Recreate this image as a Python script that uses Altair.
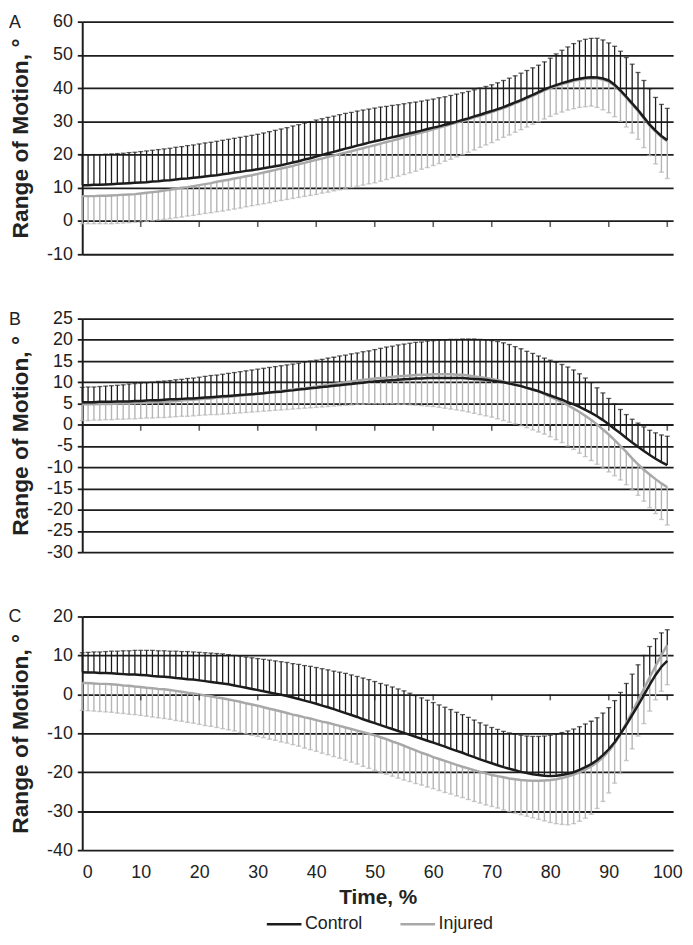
import altair as alt
import pandas as pd

# ---------------- data ----------------
t = list(range(101))
x_tick_vals = [10, 20, 30, 40, 50, 60, 70, 80, 90, 100]
x_label_vals = [0, 10, 20, 30, 40, 50, 60, 70, 80, 90, 100]
groups = ["Control", "Injured"]

# Panel A
A_ctrl_mean = [10.8, 10.8, 10.9, 10.9, 11.0, 11.1, 11.2, 11.3, 11.4, 11.5, 11.6, 11.7, 11.9, 12.0, 12.2, 12.3, 12.5, 12.7, 12.8, 13.0,
               13.2, 13.4, 13.6, 13.8, 14.1, 14.3, 14.6, 14.8, 15.1, 15.3, 15.6, 15.9, 16.2, 16.5, 16.8, 17.2, 17.6, 18.0, 18.5, 18.9,
               19.4, 19.9, 20.4, 20.8, 21.3, 21.8, 22.2, 22.7, 23.1, 23.6, 24.0, 24.4, 24.8, 25.2, 25.6, 26.0, 26.4, 26.8, 27.2, 27.7,
               28.1, 28.5, 29.0, 29.4, 29.9, 30.4, 30.9, 31.5, 32.0, 32.6, 33.1, 33.7, 34.3, 35.0, 35.7, 36.4, 37.2, 38.0, 38.8, 39.6,
               40.3, 40.9, 41.5, 42.0, 42.5, 42.8, 43.1, 43.3, 43.2, 42.9, 42.3, 41.0, 39.3, 37.4, 35.4, 33.4, 31.2, 29.0, 27.2, 25.6,
               24.3]
A_ctrl_top = [19.9, 19.9, 20.0, 20.0, 20.1, 20.2, 20.3, 20.4, 20.6, 20.7, 20.9, 21.1, 21.3, 21.5, 21.7, 21.9, 22.2, 22.4, 22.7, 22.9,
              23.2, 23.5, 23.7, 24.0, 24.3, 24.6, 24.9, 25.2, 25.5, 25.8, 26.1, 26.5, 26.9, 27.3, 27.7, 28.1, 28.6, 29.0, 29.5, 29.9,
              30.4, 30.8, 31.2, 31.6, 32.0, 32.4, 32.7, 33.1, 33.4, 33.7, 34.0, 34.3, 34.5, 34.8, 35.0, 35.3, 35.6, 35.8, 36.1, 36.4,
              36.7, 37.1, 37.4, 37.8, 38.2, 38.6, 39.0, 39.5, 40.0, 40.5, 41.0, 41.6, 42.3, 43.0, 43.7, 44.5, 45.3, 46.1, 46.9, 47.9,
              49.0, 50.3, 51.4, 52.4, 53.4, 54.2, 54.7, 55.0, 55.0, 54.5, 53.6, 52.6, 51.1, 49.2, 47.2, 44.7, 42.3, 39.8, 37.2, 35.1,
              33.9]
A_inj_mean = [7.5, 7.5, 7.5, 7.6, 7.6, 7.7, 7.8, 7.9, 8.0, 8.1, 8.3, 8.5, 8.7, 8.9, 9.2, 9.4, 9.7, 10.0, 10.2, 10.5,
              10.8, 11.1, 11.4, 11.8, 12.1, 12.4, 12.8, 13.1, 13.5, 13.8, 14.2, 14.6, 15.0, 15.4, 15.8, 16.2, 16.6, 17.1, 17.5, 18.0,
              18.4, 18.8, 19.3, 19.7, 20.2, 20.6, 21.0, 21.5, 21.9, 22.4, 22.8, 23.3, 23.8, 24.2, 24.7, 25.2, 25.7, 26.2, 26.6, 27.1,
              27.6, 28.1, 28.6, 29.1, 29.6, 30.1, 30.6, 31.2, 31.7, 32.3, 32.8, 33.4, 34.0, 34.7, 35.4, 36.1, 36.9, 37.7, 38.5, 39.3,
              40.0, 40.6, 41.2, 41.7, 42.2, 42.5, 42.8, 43.0, 42.9, 42.6, 42.0, 40.7, 39.0, 37.1, 35.1, 33.1, 30.9, 28.7, 26.9, 25.3,
              24.0]
A_inj_bottom = [-0.8, -0.8, -0.8, -0.8, -0.8, -0.8, -0.7, -0.6, -0.5, -0.4, -0.3, -0.1, 0.1, 0.3, 0.5, 0.7, 1.0, 1.2, 1.5, 1.7,
                2.0, 2.3, 2.5, 2.8, 3.0, 3.3, 3.6, 3.9, 4.3, 4.6, 4.9, 5.2, 5.5, 5.9, 6.2, 6.5, 6.8, 7.1, 7.4, 7.7,
                8.0, 8.4, 8.7, 9.1, 9.4, 9.8, 10.1, 10.5, 10.8, 11.2, 11.5, 12.0, 12.5, 13.0, 13.5, 14.0, 14.5, 15.0, 15.6, 16.1,
                16.7, 17.3, 18.0, 18.6, 19.3, 20.0, 20.7, 21.4, 22.2, 22.9, 23.6, 24.4, 25.2, 25.9, 26.7, 27.5, 28.3, 29.1, 29.9, 30.7,
                31.5, 32.2, 32.8, 33.4, 33.8, 34.2, 34.4, 34.6, 34.2, 33.5, 32.6, 31.4, 30.0, 28.3, 26.5, 24.6, 22.1, 19.7, 17.2, 14.7,
                12.8]

# Panel B
B_ctrl_mean = [5.3, 5.3, 5.3, 5.4, 5.4, 5.4, 5.5, 5.5, 5.5, 5.6, 5.6, 5.7, 5.8, 5.8, 5.9, 6.0, 6.0, 6.1, 6.2, 6.2,
               6.3, 6.4, 6.5, 6.6, 6.7, 6.8, 6.9, 7.0, 7.1, 7.2, 7.3, 7.4, 7.6, 7.7, 7.8, 8.0, 8.1, 8.3, 8.4, 8.6,
               8.7, 8.9, 9.0, 9.2, 9.3, 9.5, 9.6, 9.8, 9.9, 10.1, 10.2, 10.3, 10.4, 10.5, 10.6, 10.7, 10.8, 10.9, 10.9, 11.0,
               11.0, 11.0, 11.0, 11.0, 11.0, 11.0, 10.9, 10.8, 10.7, 10.6, 10.4, 10.2, 10.0, 9.7, 9.4, 9.1, 8.7, 8.3, 7.9, 7.4,
               6.9, 6.4, 5.9, 5.3, 4.8, 4.2, 3.5, 2.8, 2.0, 1.1, 0.1, -1.0, -2.0, -3.1, -4.2, -5.2, -6.2, -7.1, -8.0, -8.8,
               -9.5]
B_ctrl_top = [8.8, 8.9, 8.9, 9.0, 9.1, 9.2, 9.3, 9.4, 9.6, 9.7, 9.8, 9.9, 10.0, 10.2, 10.3, 10.4, 10.6, 10.7, 10.9, 11.0,
              11.2, 11.4, 11.6, 11.7, 11.9, 12.1, 12.3, 12.5, 12.7, 12.9, 13.1, 13.3, 13.5, 13.7, 13.9, 14.1, 14.3, 14.5, 14.8, 15.0,
              15.2, 15.4, 15.7, 15.9, 16.2, 16.4, 16.7, 16.9, 17.2, 17.4, 17.7, 18.0, 18.3, 18.5, 18.8, 19.0, 19.2, 19.4, 19.5, 19.7,
              19.8, 19.9, 20.0, 20.1, 20.1, 20.2, 20.2, 20.2, 20.1, 20.0, 19.8, 19.6, 19.3, 18.9, 18.4, 17.9, 17.3, 16.8, 16.2, 15.7,
              15.2, 14.7, 14.2, 13.6, 12.9, 12.0, 11.0, 9.9, 8.7, 7.5, 6.2, 4.9, 3.6, 2.4, 1.3, 0.4, -0.5, -1.3, -1.9, -2.4,
              -2.7]
B_inj_mean = [4.8, 4.8, 4.8, 4.9, 4.9, 4.9, 5.0, 5.0, 5.0, 5.1, 5.1, 5.2, 5.3, 5.4, 5.4, 5.5, 5.6, 5.7, 5.8, 5.9,
              6.0, 6.1, 6.2, 6.4, 6.5, 6.6, 6.7, 6.9, 7.0, 7.2, 7.3, 7.5, 7.6, 7.8, 8.0, 8.1, 8.3, 8.5, 8.6, 8.8,
              9.0, 9.2, 9.4, 9.6, 9.8, 10.0, 10.2, 10.4, 10.6, 10.7, 10.9, 11.0, 11.1, 11.3, 11.4, 11.5, 11.6, 11.7, 11.8, 11.8,
              11.9, 11.9, 11.9, 11.9, 11.8, 11.8, 11.6, 11.4, 11.2, 11.0, 10.8, 10.5, 10.2, 9.8, 9.5, 9.1, 8.7, 8.3, 7.9, 7.2,
              6.6, 6.0, 5.3, 4.6, 3.8, 3.0, 2.1, 1.1, 0.1, -1.1, -2.3, -3.6, -5.0, -6.4, -7.9, -9.3, -10.6, -11.7, -12.8, -13.8,
              -14.7]
B_inj_bottom = [1.0, 1.0, 1.1, 1.1, 1.2, 1.2, 1.3, 1.3, 1.4, 1.4, 1.5, 1.6, 1.6, 1.7, 1.7, 1.8, 1.9, 2.0, 2.0, 2.1,
                2.2, 2.3, 2.4, 2.4, 2.5, 2.6, 2.7, 2.8, 2.9, 3.0, 3.1, 3.2, 3.3, 3.4, 3.5, 3.6, 3.7, 3.8, 3.9, 4.0,
                4.1, 4.2, 4.3, 4.4, 4.5, 4.6, 4.7, 4.8, 4.8, 4.9, 4.9, 4.9, 4.9, 4.9, 4.8, 4.8, 4.7, 4.6, 4.5, 4.4,
                4.3, 4.1, 3.9, 3.7, 3.5, 3.3, 3.0, 2.7, 2.4, 2.1, 1.8, 1.4, 1.0, 0.6, 0.2, -0.2, -0.7, -1.2, -1.7, -2.2,
                -2.8, -3.5, -4.2, -5.0, -5.8, -6.7, -7.5, -8.4, -9.3, -10.2, -11.1, -12.0, -13.0, -14.1, -15.3, -16.6, -18.0, -19.5, -20.9, -22.3,
                -23.6]

# Panel C
C_ctrl_mean = [5.7, 5.6, 5.6, 5.5, 5.5, 5.4, 5.3, 5.2, 5.1, 5.1, 5.0, 4.9, 4.7, 4.6, 4.5, 4.4, 4.2, 4.1, 3.9, 3.8,
               3.6, 3.4, 3.2, 3.0, 2.8, 2.6, 2.3, 2.0, 1.7, 1.4, 1.1, 0.8, 0.5, 0.2, -0.1, -0.4, -0.8, -1.2, -1.6, -2.0,
               -2.4, -2.9, -3.3, -3.8, -4.3, -4.8, -5.3, -5.8, -6.4, -6.9, -7.4, -7.9, -8.4, -8.9, -9.4, -9.9, -10.4, -10.9, -11.4, -11.9,
               -12.4, -12.9, -13.4, -14.0, -14.5, -15.0, -15.6, -16.1, -16.7, -17.2, -17.7, -18.2, -18.7, -19.1, -19.5, -19.9, -20.2, -20.5, -20.7, -20.9,
               -21.0, -20.9, -20.7, -20.4, -20.0, -19.4, -18.7, -17.9, -16.9, -15.6, -14.1, -12.3, -10.1, -7.8, -5.3, -2.8, -0.2, 2.5, 5.0, 7.1,
               8.6]
C_ctrl_top = [10.7, 10.8, 10.9, 10.9, 11.0, 11.1, 11.1, 11.2, 11.2, 11.3, 11.3, 11.3, 11.3, 11.2, 11.2, 11.1, 11.1, 11.0, 11.0, 10.9,
              10.8, 10.7, 10.6, 10.5, 10.4, 10.2, 10.0, 9.8, 9.6, 9.4, 9.2, 9.0, 8.8, 8.6, 8.4, 8.2, 7.9, 7.7, 7.4, 7.2,
              6.9, 6.6, 6.3, 6.0, 5.7, 5.4, 5.0, 4.6, 4.2, 3.8, 3.3, 2.8, 2.4, 1.9, 1.4, 0.9, 0.3, -0.3, -0.9, -1.5,
              -2.1, -2.7, -3.3, -3.9, -4.6, -5.2, -5.9, -6.6, -7.3, -7.9, -8.5, -9.0, -9.5, -9.9, -10.2, -10.5, -10.7, -10.8, -10.8, -10.7,
              -10.5, -10.2, -9.8, -9.4, -8.9, -8.3, -7.6, -6.9, -6.0, -4.8, -3.4, -1.6, 0.5, 2.8, 5.2, 7.6, 10.0, 12.3, 14.3, 15.8,
              16.6]
C_inj_mean = [2.9, 2.9, 2.8, 2.7, 2.7, 2.6, 2.5, 2.3, 2.2, 2.0, 1.9, 1.7, 1.6, 1.4, 1.3, 1.1, 0.9, 0.7, 0.4, 0.2,
              0.0, -0.3, -0.5, -0.8, -1.0, -1.3, -1.6, -1.9, -2.3, -2.6, -2.9, -3.3, -3.7, -4.0, -4.4, -4.8, -5.2, -5.5, -5.9, -6.2,
              -6.6, -7.0, -7.3, -7.7, -8.1, -8.5, -8.9, -9.3, -9.7, -10.1, -10.5, -11.0, -11.5, -12.1, -12.6, -13.2, -13.8, -14.4, -15.0, -15.5,
              -16.1, -16.6, -17.1, -17.6, -18.1, -18.6, -19.0, -19.5, -19.9, -20.3, -20.7, -21.0, -21.3, -21.6, -21.8, -22.0, -22.1, -22.2, -22.2, -22.1,
              -22.0, -21.8, -21.5, -21.1, -20.6, -20.0, -19.3, -18.5, -17.5, -16.2, -14.6, -12.6, -10.2, -7.4, -4.5, -1.6, 1.4, 4.4, 7.3, 10.1,
              12.7]
C_inj_bottom = [-4.1, -4.2, -4.3, -4.4, -4.5, -4.6, -4.8, -4.9, -5.1, -5.2, -5.4, -5.6, -5.8, -6.0, -6.2, -6.4, -6.7, -6.9, -7.2, -7.4,
                -7.7, -8.0, -8.2, -8.5, -8.8, -9.1, -9.4, -9.8, -10.1, -10.5, -10.8, -11.1, -11.5, -11.8, -12.2, -12.5, -12.9, -13.3, -13.8, -14.2,
                -14.6, -15.1, -15.5, -16.0, -16.4, -16.9, -17.4, -17.9, -18.5, -19.0, -19.5, -20.0, -20.5, -21.0, -21.5, -22.0, -22.4, -22.9, -23.3, -23.8,
                -24.2, -24.7, -25.2, -25.6, -26.1, -26.5, -27.0, -27.5, -27.9, -28.4, -28.8, -29.2, -29.7, -30.1, -30.5, -30.9, -31.3, -31.7, -32.1, -32.5,
                -32.9, -33.2, -33.4, -33.5, -33.2, -32.6, -31.8, -30.8, -29.3, -27.5, -25.3, -22.8, -20.3, -17.0, -14.0, -10.7, -7.5, -4.3, -1.4, 0.8,
                2.5]

# ---------------- styling ----------------
BLACK = "#1c1c1c"
GRAY = "#b5b5b5"
GRAY_LINE = "#a8a8a8"
TXT = "#222222"
FONT = "Liberation Sans"

color_scale = alt.Scale(domain=groups, range=[BLACK, GRAY_LINE])
legend = alt.Legend(
    title=None, orient="none", direction="horizontal", legendX=185, legendY=893,
    symbolType="stroke", symbolSize=1225, symbolStrokeWidth=2.5, labelFontSize=18,
    labelFont=FONT, labelColor=TXT, columnPadding=32, labelOffset=2,
)


def panel(letter, cm, ct, im, ib, dom, step, height, bottom):
    df = pd.DataFrame({"t": t, "cm": cm, "ct": ct, "im": im, "ib": ib,
                       "c": groups[0], "i": groups[1]})
    ticks_df = pd.DataFrame({"t": x_tick_vals})
    lab_df = pd.DataFrame({"s": [letter]})

    xscale = alt.Scale(domain=[0, 101], nice=False, zero=False, padding=0)
    yscale = alt.Scale(domain=dom, nice=False, zero=False, padding=0)
    if bottom:
        xaxis = alt.Axis(values=x_label_vals, tickCount=100, title="Time, %", grid=False, ticks=False, domain=False,
                         labelFontSize=18, labelFont=FONT, labelColor=TXT, labelPadding=14,
                         labelExpr="'' + datum.value",
                         titleFontSize=21, titleFont=FONT, titleFontWeight="bold", titleColor=TXT,
                         titlePadding=5)
    else:
        xaxis = None
    yaxis = alt.Axis(values=list(range(dom[0], dom[1] + 1, step)), tickCount=100, labelOverlap=False,
                     title="Range of Motion, °",
                     grid=True, gridColor=BLACK, gridWidth=1.8, gridOpacity=1,
                     domainColor=BLACK, domainWidth=2, tickColor=BLACK, tickWidth=1.8, tickSize=5,
                     labelPadding=5, labelFontSize=18, labelFont=FONT, labelColor=TXT,
                     labelExpr="'' + datum.value",
                     titleFontSize=23, titleFont=FONT, titleFontWeight="bold", titleColor=TXT,
                     titlePadding=14)

    X = alt.X("t:Q", scale=xscale, axis=xaxis)

    def Y(f):
        return alt.Y(f"{f}:Q", scale=yscale, axis=yaxis)

    base = alt.Chart(df)
    cbars = base.mark_rule(color=BLACK, strokeWidth=1.3).encode(x=X, y=Y("cm"), y2="ct:Q")
    ccaps = base.mark_tick(orient="horizontal", size=5, thickness=1.3, color=BLACK).encode(x=X, y=Y("ct"))
    ibars = base.mark_rule(color=GRAY, strokeWidth=1.4).encode(x=X, y=Y("im"), y2="ib:Q")
    icaps = base.mark_tick(orient="horizontal", size=5, thickness=1.4, color=GRAY).encode(x=X, y=Y("ib"))
    iline = base.mark_line(strokeWidth=2.5).encode(
        x=X, y=Y("im"), color=alt.Color("i:N", scale=color_scale, legend=legend))
    cline = base.mark_line(strokeWidth=2.5).encode(
        x=X, y=Y("cm"), color=alt.Color("c:N", scale=color_scale, legend=legend))
    zticks = alt.Chart(ticks_df).mark_tick(orient="vertical", size=6, thickness=1.6, yOffset=3,
                                           color=BLACK).encode(x=X, y=alt.datum(0))
    lab = alt.Chart(lab_df).mark_text(fontSize=18, font=FONT, color=TXT, align="center",
                                      baseline="middle").encode(text="s:N", x=alt.value(-68), y=alt.value(1))
    return alt.layer(cbars, ccaps, ibars, icaps, iline, cline, zticks, lab).properties(width=597, height=height)


pA = panel("A", A_ctrl_mean, A_ctrl_top, A_inj_mean, A_inj_bottom, [-10, 60], 10, 235, False)
pB = panel("B", B_ctrl_mean, B_ctrl_top, B_inj_mean, B_inj_bottom, [-30, 25], 5, 236, False)
pC = panel("C", C_ctrl_mean, C_ctrl_top, C_inj_mean, C_inj_bottom, [-40, 20], 10, 236, True)

chart = (
    alt.vconcat(pA, pB, pC, spacing=65, bounds="flush")
    .resolve_scale(y="independent", color="shared")
    .configure_view(stroke=None)
    .properties(padding={"left": 0, "top": 0, "right": 2, "bottom": 0}, background="white")
)

chart.save("out.html", embed_options={"renderer": "svg", "actions": False})
